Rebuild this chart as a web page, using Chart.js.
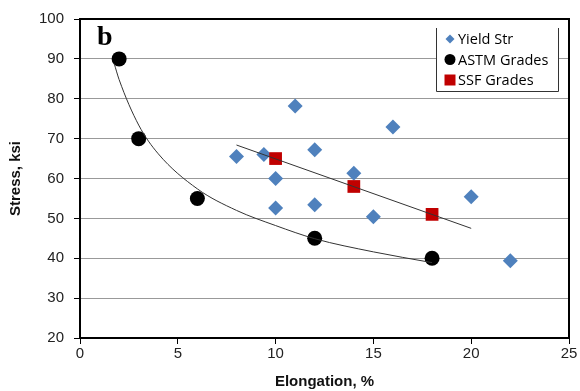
<!DOCTYPE html>
<html>
<head>
<meta charset="utf-8">
<script src="https://cdn.jsdelivr.net/npm/chart.js@4.4.1/dist/chart.umd.min.js"></script>
<style>
  html, body { margin: 0; padding: 0; background: #fff; }
  #wrap { width: 580px; height: 391px; position: relative; }
</style>
</head>
<body>
<div id="wrap"><canvas id="c" width="580" height="391"></canvas></div>
<script>
// ---- Data ----
const yieldElong  = [8, 9.4, 10, 10, 11, 12, 12, 14, 15, 16, 20, 22];
const yieldStress = [65.5, 66, 60, 52.6, 78.2, 67.2, 53.4, 61.3, 50.4, 72.9, 55.4, 39.4];

const astmElong  = [2, 3, 6, 12, 18];
const astmStress = [90, 70, 55, 45, 40];

const ssfElong  = [10, 14, 18];
const ssfStress = [65, 58, 51];

// trend lines
const astmTrendX = [1.75, 2, 3, 4, 6, 8, 10, 12, 15, 18];
const astmTrendY = [88.8, 84.8, 73.4, 66.2, 57.4, 52.0, 48.2, 44.9, 41.6, 38.9];
const ssfTrendX = [8, 20];
const ssfTrendY = [68.4, 47.5];

const xTicks = [0, 5, 10, 15, 20, 25];
const yTicks = [20, 30, 40, 50, 60, 70, 80, 90, 100];

const pts = (xs, ys) => xs.map((x, i) => ({ x, y: ys[i] }));

const borderPlugin = {
  id: 'frame',
  afterDraw(chart) {
    const { ctx, chartArea: a } = chart;
    ctx.save();
    ctx.strokeStyle = '#000';
    ctx.lineWidth = 2;
    ctx.strokeRect(a.left, a.top, a.right - a.left, a.bottom - a.top);
    // panel letter
    ctx.fillStyle = '#000';
    ctx.font = 'bold 28px "Liberation Serif", "DejaVu Serif", serif';
    ctx.textBaseline = 'alphabetic';
    ctx.textAlign = 'left';
    ctx.fillText('b', 97, 45);
    // legend
    const lx = 436, ly = 28, lw = 122, lh = 63;
    ctx.fillStyle = '#fff';
    ctx.fillRect(lx, ly, lw, lh);
    ctx.strokeStyle = '#333';
    ctx.lineWidth = 1;
    ctx.beginPath();
    ctx.moveTo(lx + 0.5, ly);
    ctx.lineTo(lx + 0.5, ly + lh + 0.5);
    ctx.lineTo(lx + lw + 0.5, ly + lh + 0.5);
    ctx.lineTo(lx + lw + 0.5, ly);
    ctx.stroke();
    const items = [0, 1, 2].map(i => chart.data.datasets[i]);
    ctx.font = '14.5px "Open Sans", "Liberation Sans", sans-serif';
    ctx.textBaseline = 'middle';
    items.forEach((ds, i) => {
      const cy = ly + 11 + i * 20.5;
      const cx = lx + 14;
      ctx.fillStyle = ds.backgroundColor;
      ctx.beginPath();
      if (ds.pointStyle === 'rectRot') {
        const r = 4.5;
        ctx.moveTo(cx, cy - r); ctx.lineTo(cx + r, cy); ctx.lineTo(cx, cy + r); ctx.lineTo(cx - r, cy); ctx.closePath();
      } else if (ds.pointStyle === 'circle') {
        ctx.arc(cx, cy, 5.5, 0, Math.PI * 2);
      } else {
        ctx.rect(cx - 5.5, cy - 5.5, 11, 11);
      }
      ctx.fill();
      ctx.fillStyle = '#000';
      ctx.fillText(ds.label, cx + 8, cy + 1);
    });
    ctx.restore();
  }
};

new Chart(document.getElementById('c'), {
  type: 'scatter',
  data: {
    datasets: [
      { label: 'Yield Str', data: pts(yieldElong, yieldStress), pointStyle: 'rectRot',
        backgroundColor: '#4F81BD', borderColor: '#4F81BD', pointRadius: 7.5, pointBorderWidth: 0, order: 4 },
      { label: 'ASTM Grades', data: pts(astmElong, astmStress), pointStyle: 'circle',
        backgroundColor: '#000', borderColor: '#000', pointRadius: 7.5, pointBorderWidth: 0, order: 3 },
      { label: 'SSF Grades', data: pts(ssfElong, ssfStress), pointStyle: 'rect',
        backgroundColor: '#C00000', borderColor: '#C00000', pointRadius: 9, pointBorderWidth: 0, order: 2 },
      { label: 'ASTM trend', data: pts(astmTrendX, astmTrendY), showLine: true, pointRadius: 0,
        borderColor: '#333', borderWidth: 1, cubicInterpolationMode: 'monotone', fill: false, order: 1 },
      { label: 'SSF trend', data: pts(ssfTrendX, ssfTrendY), showLine: true, pointRadius: 0,
        borderColor: '#333', borderWidth: 1, fill: false, order: 1 }
    ]
  },
  options: {
    responsive: false,
    animation: false,
    layout: { padding: { top: 19, right: 11, left: 7, bottom: 0 } },
    plugins: { legend: { display: false }, tooltip: { enabled: false } },
    scales: {
      x: {
        type: 'linear', min: 0, max: 25,
        afterBuildTicks: s => { s.ticks = xTicks.map(v => ({ value: v })); },
        afterFit: s => { s.height = 53; },
        grid: { drawOnChartArea: false, drawTicks: true, tickLength: 6, tickColor: '#000' },
        border: { color: '#000', width: 2 },
        ticks: { color: '#222', font: { family: '"Liberation Sans", Arial, sans-serif', size: 15 }, padding: 1, maxRotation: 0 },
        title: { display: true, text: 'Elongation, %', color: '#111',
          font: { family: '"Liberation Sans", Arial, sans-serif', size: 15, weight: 'bold' }, padding: { top: 2, bottom: 0 } }
      },
      y: {
        type: 'linear', min: 20, max: 100,
        afterBuildTicks: s => { s.ticks = yTicks.map(v => ({ value: v })); },
        afterFit: s => { s.width = 73; },
        grid: { color: '#999', lineWidth: 1, drawTicks: true, tickLength: 6, tickColor: '#000' },
        border: { color: '#000', width: 2 },
        ticks: { color: '#222', font: { family: '"Liberation Sans", Arial, sans-serif', size: 15 }, padding: 10 },
        title: { display: true, text: 'Stress, ksi', color: '#111',
          font: { family: '"Liberation Sans", Arial, sans-serif', size: 15, weight: 'bold' }, padding: { top: 0, bottom: 6 } }
      }
    }
  },
  plugins: [borderPlugin]
});
</script>
</body>
</html>
